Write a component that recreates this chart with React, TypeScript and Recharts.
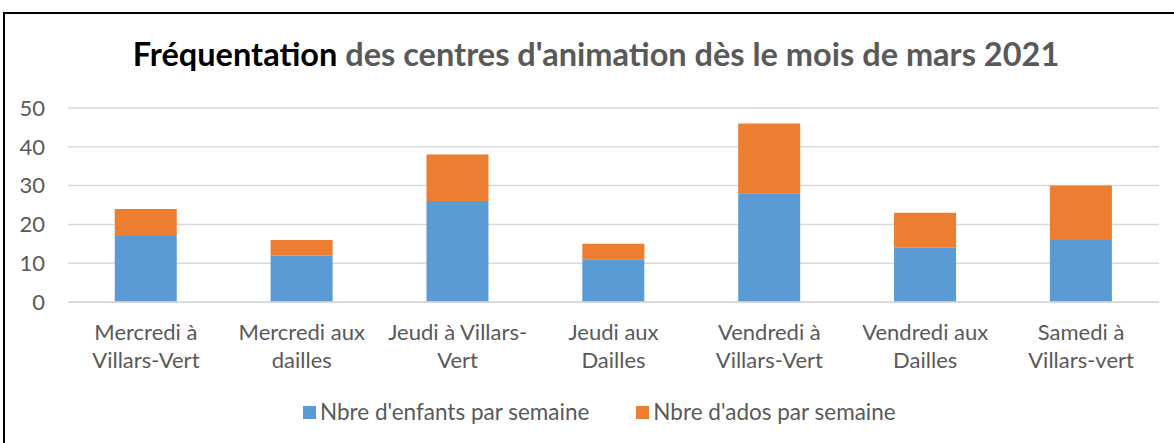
import React from "react";
import { BarChart, Bar, XAxis, YAxis, CartesianGrid } from "recharts";

const categories = [
  "Mercredi à\nVillars-Vert",
  "Mercredi aux\ndailles",
  "Jeudi à Villars-\nVert",
  "Jeudi aux\nDailles",
  "Vendredi à\nVillars-Vert",
  "Vendredi aux\nDailles",
  "Samedi à\nVillars-vert",
];
const enfants = [17, 12, 26, 11, 28, 14, 16];
const ados = [7, 4, 12, 4, 18, 9, 14];
const yTicks = [0, 10, 20, 30, 40, 50];
const seriesNames = ["Nbre d'enfants par semaine", "Nbre d'ados par semaine"];
const colors = ["#5B9BD5", "#ED7D31"];

const data = categories.map((c, i) => ({ name: c, enfants: enfants[i], ados: ados[i] }));

const FONT = "Lato, 'Liberation Sans', sans-serif";
const GREY = "#595959";

const XTick = (props: any) => {
  const { x, y, payload } = props;
  const lines = String(payload.value).split("\n");
  return (
    <text x={x} y={y} textAnchor="middle" fill={GREY} fontSize={22} fontFamily={FONT}>
      {lines.map((l, i) => (
        <tspan key={i} x={x} y={y + 38 + i * 28}>
          {l}
        </tspan>
      ))}
    </text>
  );
};

export default function App() {
  return (
    <div style={{ position: "absolute", left: 0, top: 0, width: 1174, height: 443, background: "#fff", fontFamily: FONT }}>
      <div
        style={{
          position: "absolute",
          left: 3,
          top: 12,
          width: 1171,
          height: 431,
          borderTop: "2px solid #000",
          borderLeft: "2px solid #000",
          boxSizing: "border-box",
        }}
      />
      <div
        style={{
          position: "absolute",
          left: 0,
          width: 1192,
          top: 34,
          textAlign: "center",
          fontSize: 32.5,
          fontWeight: 700,
          color: GREY,
          lineHeight: "40px",
          whiteSpace: "nowrap",
        }}
      >
        <span style={{ color: "#000" }}>Fréquentation</span> des centres d'animation dès le mois de mars 2021
      </div>
      <div style={{ position: "absolute", left: 0, top: 0 }}>
        <BarChart
          width={1174}
          height={443}
          data={data}
          margin={{ top: 108, right: 15, left: 0, bottom: 0 }}
          barCategoryGap="30%"
        >
          <CartesianGrid vertical={false} stroke="#D9D9D9" strokeWidth={1.5} />
          <XAxis
            dataKey="name"
            interval={0}
            height={141}
            tickLine={false}
            tickSize={0}
            tickMargin={0}
            axisLine={{ stroke: "#D9D9D9", strokeWidth: 1.5 }}
            tick={<XTick />}
          />
          <YAxis
            width={68}
            domain={[0, 50]}
            ticks={yTicks}
            axisLine={false}
            tickLine={false}
            tickMargin={17}
            tick={{ fill: GREY, fontSize: 22, fontFamily: FONT }}
          />
          <Bar dataKey="enfants" name={seriesNames[0]} stackId="a" fill={colors[0]} isAnimationActive={false} />
          <Bar dataKey="ados" name={seriesNames[1]} stackId="a" fill={colors[1]} isAnimationActive={false} />
        </BarChart>
      </div>
      <div
        style={{
          position: "absolute",
          left: 303,
          top: 399,
          display: "flex",
          alignItems: "center",
          fontSize: 22.5,
          color: GREY,
          lineHeight: "26px",
          whiteSpace: "nowrap",
        }}
      >
        {seriesNames.map((n, i) => (
          <div key={n} style={{ display: "flex", alignItems: "center", marginRight: i === 0 ? 47 : 0 }}>
            <span style={{ width: 13, height: 13, background: colors[i], display: "inline-block", marginRight: 4 }} />
            <span>{n}</span>
          </div>
        ))}
      </div>
    </div>
  );
}
